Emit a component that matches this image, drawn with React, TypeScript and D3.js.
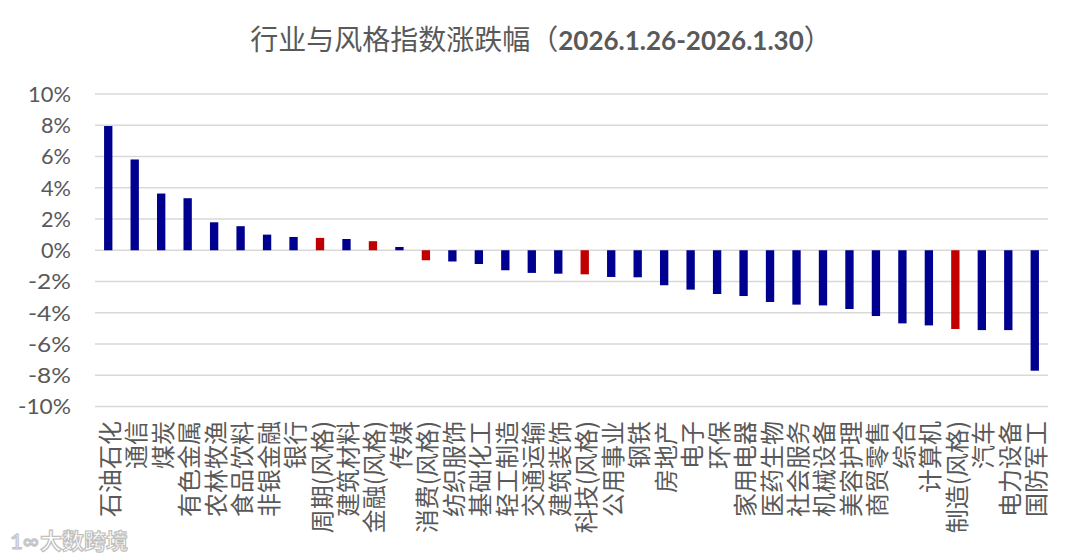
import React from "react";
import * as d3 from "d3";

const categories = [
  "石油石化", "通信", "煤炭", "有色金属", "农林牧渔", "食品饮料", "非银金融", "银行",
  "周期(风格)", "建筑材料", "金融(风格)", "传媒", "消费(风格)", "纺织服饰", "基础化工",
  "轻工制造", "交通运输", "建筑装饰", "科技(风格)", "公用事业", "钢铁", "房地产", "电子",
  "环保", "家用电器", "医药生物", "社会服务", "机械设备", "美容护理", "商贸零售", "综合",
  "计算机", "制造(风格)", "汽车", "电力设备", "国防军工",
];

// 涨跌幅 (%)
const changes = [
  7.95, 5.81, 3.63, 3.33, 1.79, 1.54, 1.0, 0.85,
  0.79, 0.72, 0.58, 0.21, -0.64, -0.72, -0.88,
  -1.28, -1.45, -1.5, -1.54, -1.71, -1.73, -2.24, -2.52,
  -2.8, -2.93, -3.31, -3.48, -3.53, -3.76, -4.21, -4.68,
  -4.81, -5.04, -5.11, -5.11, -7.71,
];

const yTicks = [-10, -8, -6, -4, -2, 0, 2, 4, 6, 8, 10];

const W = 1080;
const H = 560;
const plot = { left: 95, right: 1048, top: 94, bottom: 406.5 };

const BLUE = "#000090";
const RED = "#C00000";
const GRAY = "#595959";
const GRID = "#d9d9d9";
const CJK = "'Noto Sans CJK SC', sans-serif";

const App: React.FC = () => {
  const x = d3
    .scaleBand<string>()
    .domain(categories)
    .range([plot.left, plot.right])
    .paddingInner(0.685)
    .paddingOuter(0.3425);

  const y = d3.scaleLinear().domain([-10, 10]).range([plot.bottom, plot.top]);
  const fmt = (v: number) => `${v}%`;

  return (
    <div style={{ position: "absolute", left: 0, top: 0 }}>
      <svg width={W} height={H} style={{ display: "block", background: "#fff" }}>
        {/* 标题 */}
        <text x={541} y={50} textAnchor="middle" fill={GRAY} fontSize={28} fontFamily={CJK}>
          行业与风格指数涨跌幅（
          <tspan fontFamily="Lato, sans-serif" fontWeight="bold" fontSize={26}>
            2026.1.26-2026.1.30
          </tspan>
          ）
        </text>

        {/* 网格线 */}
        {yTicks.map((t) => (
          <line
            key={t}
            x1={plot.left}
            x2={plot.right}
            y1={y(t)}
            y2={y(t)}
            stroke={GRID}
            strokeWidth={1.3}
          />
        ))}

        {/* Y 轴标签 */}
        {yTicks.map((t) => (
          <text
            key={t}
            x={71}
            y={y(t)}
            dy="0.36em"
            textAnchor="end"
            fill={GRAY}
            fontSize={22}
            fontFamily="Lato, sans-serif"
            textLength={t === -10 ? 53 : t < 0 || t === 10 ? 43 : 30}
            lengthAdjust="spacingAndGlyphs"
          >
            {fmt(t)}
          </text>
        ))}

        {/* 柱 */}
        {categories.map((c, i) => {
          const v = changes[i];
          const isStyle = c.includes("风格");
          return (
            <rect
              key={c}
              x={x(c)}
              width={x.bandwidth()}
              y={Math.min(y(v), y(0))}
              height={Math.abs(y(v) - y(0))}
              fill={isStyle ? RED : BLUE}
            />
          );
        })}

        {/* 分类标签 */}
        {categories.map((c) => (
          <text
            key={c}
            transform={`translate(${(x(c) ?? 0) + x.bandwidth() / 2},421) rotate(-90)`}
            textAnchor="end"
            dominantBaseline="central"
            fill={GRAY}
            fontSize={24}
            fontFamily={CJK}
          >
            {c}
          </text>
        ))}

        {/* 水印 */}
        <text
          x={40}
          y={549}
          fill="#fff"
          stroke="#c0c0c0"
          strokeWidth={1.2}
          fontSize={22}
          fontWeight="bold"
          fontFamily={CJK}
        >
          大数跨境
        </text>
        <text x={10} y={549} fill="#fff" stroke="#c0c0c0" strokeWidth={1.2} fontSize={22} fontFamily="Lato, sans-serif">
          1∞
        </text>
      </svg>
    </div>
  );
};

export default App;
